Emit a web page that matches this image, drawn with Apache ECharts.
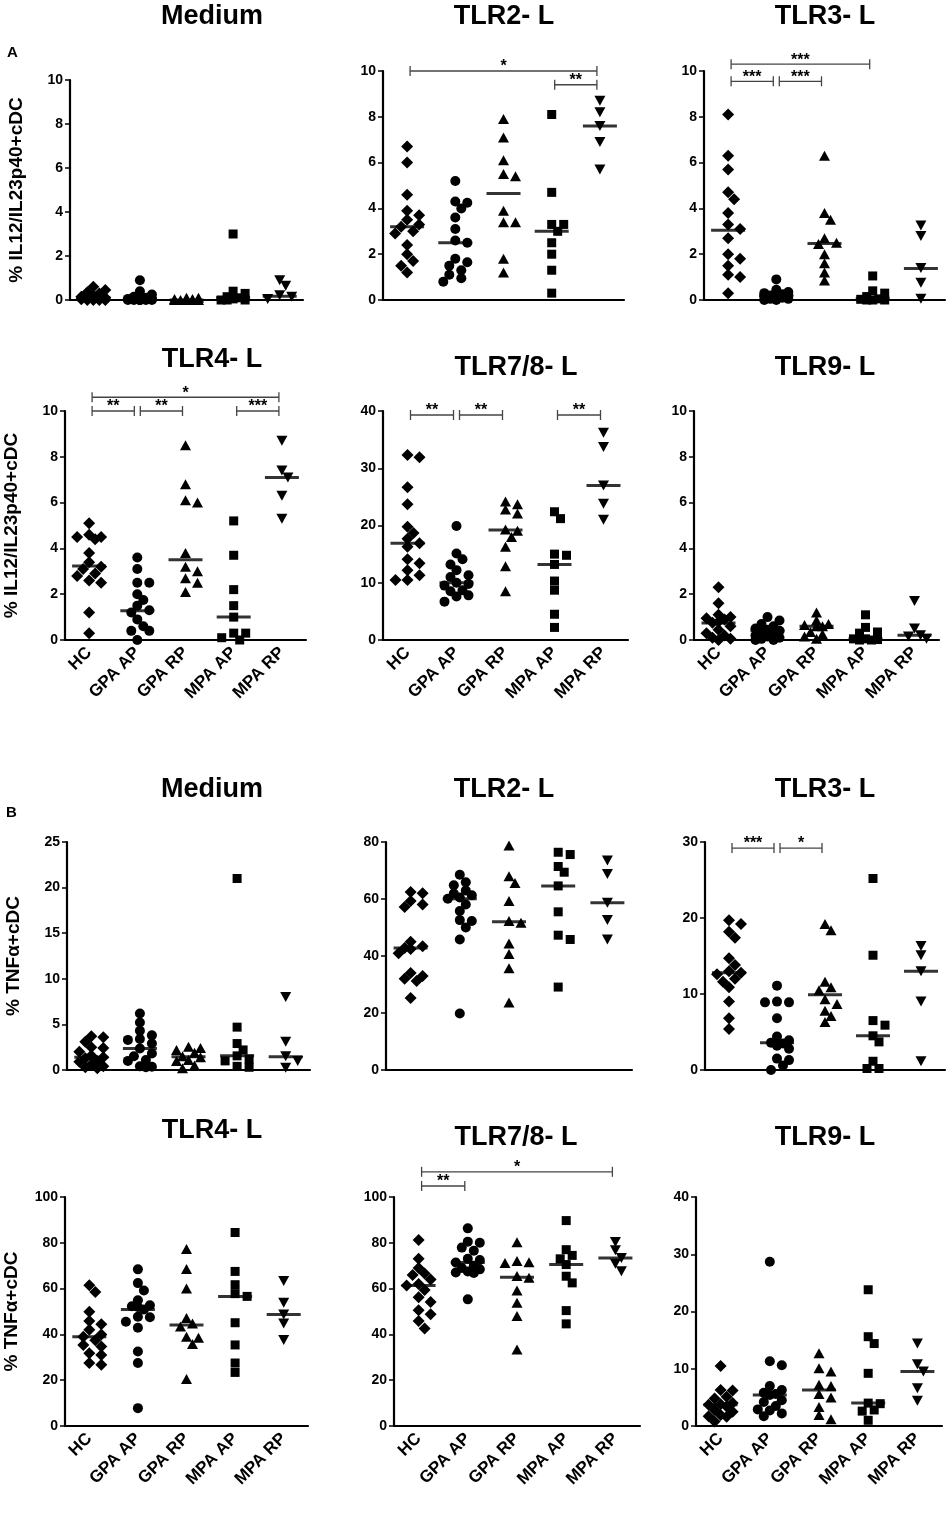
<!DOCTYPE html>
<html>
<head>
<meta charset="UTF-8">
<title>cDC cytokine dot plots</title>
<script src="https://cdn.jsdelivr.net/npm/echarts@6/dist/echarts.min.js"></script>
<style>
  html, body { margin: 0; padding: 0; background: #fff; }
  #main { width: 948px; height: 1516px; }
</style>
</head>
<body>
<div id="main"></div>
<script>
// groups (x axis)
var cats = ['HC', 'GPA AP', 'GPA RP', 'MPA AP', 'MPA RP'];

// ---- panel A: % IL12/IL23p40+ cDC ----
var aMedium = [
  [0.6, 0.45, 0.35, 0.3, 0.2, 0.15, 0.1, 0.1, 0.08, 0.05, 0.03, 0, 0, 0, 0],
  [0.9, 0.4, 0.25, 0.15, 0.1, 0.05, 0.05, 0.05, 0, 0, 0, 0, 0, 0, 0],
  [0.1, 0.1, 0.05, 0.05, 0, 0, 0, 0, 0, 0],
  [3.0, 0.4, 0.3, 0.15, 0.1, 0.05, 0, 0, 0],
  [0.9, 0.65, 0.22, 0.15, 0.05]
];
var aMediumMed = [0.1, 0.05, 0, 0.1, 0.17];

var aTLR2 = [
  [6.7, 6.0, 4.6, 3.9, 3.7, 3.5, 3.3, 3.2, 3.0, 2.9, 2.4, 2.0, 1.7, 1.5, 1.2],
  [5.2, 4.3, 4.25, 4.0, 3.6, 3.1, 2.6, 2.5, 1.8, 1.65, 1.5, 1.3, 1.1, 0.95, 0.8],
  [7.9, 7.1, 6.1, 5.5, 5.4, 3.9, 3.4, 3.4, 1.8, 1.2],
  [8.1, 4.7, 3.3, 3.3, 3.0, 2.5, 2.0, 1.3, 0.3],
  [8.7, 8.2, 7.6, 6.9, 5.7]
];
var aTLR2Med = [3.2, 2.5, 4.65, 3.0, 7.6];
var aTLR2Sig = [[0, 4, 10, '*'], [3, 4, 9.4, '**']];

var aTLR3 = [
  [8.1, 6.3, 5.7, 4.7, 4.4, 3.8, 3.3, 3.1, 2.7, 2.0, 1.8, 1.5, 1.1, 1.0, 0.3],
  [0.9, 0.45, 0.35, 0.3, 0.25, 0.2, 0.2, 0.2, 0.15, 0.1, 0.1, 0.05, 0.05, 0, 0],
  [6.3, 3.8, 3.5, 2.7, 2.5, 2.45, 2.0, 1.6, 1.2, 0.85],
  [1.05, 0.4, 0.3, 0.15, 0.05, 0.03, 0, 0, 0],
  [3.25, 2.8, 1.4, 0.75, 0.05]
];
var aTLR3Med = [3.05, 0.2, 2.47, 0.05, 1.38];
var aTLR3Sig = [[0, 3, 10.3, '***'], [0, 1, 9.55, '***'], [1, 2, 9.55, '***']];

var aTLR4 = [
  [5.1, 4.6, 4.5, 4.5, 4.4, 3.8, 3.4, 3.2, 3.1, 2.9, 2.8, 2.6, 2.5, 1.2, 0.3],
  [3.6, 3.1, 2.5, 2.5, 2.0, 1.75, 1.5, 1.3, 1.2, 0.9, 0.6, 0.4, 0.4, 0.0],
  [8.5, 6.8, 6.1, 6.0, 3.8, 3.2, 3.0, 2.7, 2.5, 2.1],
  [5.2, 3.7, 2.2, 1.5, 1.0, 0.3, 0.3, 0.1, 0.0],
  [8.7, 7.4, 7.1, 6.3, 5.3]
];
var aTLR4Med = [3.23, 1.28, 3.5, 1.0, 7.1];
var aTLR4Sig = [[0, 4, 10.6, '*'], [0, 1, 10, '**'], [1, 2, 10, '**'], [3, 4, 10, '***']];

var aTLR78 = [
  [32.3, 31.9, 26.7, 23.7, 19.8, 18.7, 17.7, 16.9, 16.3, 14.1, 13.4, 12.2, 11.3, 10.5, 10.5],
  [19.9, 15.1, 14.1, 13.2, 12.2, 11.3, 11.0, 10.0, 9.8, 9.5, 8.7, 8.5, 7.8, 7.6, 6.7],
  [24.2, 23.7, 22.8, 22.1, 19.3, 19.1, 18.0, 16.3, 12.9, 8.5],
  [22.4, 21.2, 15.0, 14.8, 13.2, 10.3, 8.7, 4.5, 2.2],
  [36.2, 33.7, 27.0, 23.8, 21.0]
];
var aTLR78Med = [16.9, 10.0, 19.2, 13.2, 27.0];
var aTLR78Sig = [[0, 1, 39.3, '**'], [1, 2, 39.3, '**'], [3, 4, 39.3, '**']];

var aTLR9 = [
  [2.3, 1.6, 1.1, 1.0, 0.95, 0.9, 0.8, 0.75, 0.6, 0.45, 0.3, 0.2, 0.1, 0.05, 0],
  [1.0, 0.85, 0.7, 0.6, 0.5, 0.45, 0.4, 0.4, 0.3, 0.2, 0.15, 0.1, 0.05, 0, 0],
  [1.2, 0.85, 0.7, 0.65, 0.6, 0.6, 0.35, 0.25, 0.15, 0.05],
  [1.1, 0.55, 0.35, 0.3, 0.05, 0.05, 0.02, 0, 0],
  [1.7, 0.5, 0.21, 0.15, 0.05]
];
var aTLR9Med = [0.74, 0.4, 0.6, 0.05, 0.21];

// ---- panel B: % TNFa+ cDC ----
var bMedium = [
  [3.7, 3.6, 3.1, 2.5, 2.4, 2.0, 1.6, 1.4, 1.3, 1.0, 0.9, 0.6, 0.4, 0.3, 0.2],
  [6.2, 5.2, 4.3, 3.8, 3.4, 3.3, 2.9, 2.35, 1.8, 1.5, 1.1, 1.0, 0.4, 0.35, 0.3],
  [2.55, 2.4, 2.2, 1.9, 1.5, 1.4, 1.1, 1.0, 0.5, 0.2],
  [21.0, 4.7, 2.9, 2.2, 1.55, 1.2, 1.0, 0.4, 0.3],
  [8.0, 3.1, 1.5, 1.0, 0.25]
];
var bMediumMed = [1.4, 2.35, 1.45, 1.55, 1.46];

var bTLR2 = [
  [62.5, 62.0, 59.3, 58.1, 57.2, 45.0, 43.4, 42.8, 42.5, 41.0, 34.0, 33.0, 32.0, 31.2, 25.3],
  [68.5, 65.9, 64.8, 63.0, 61.9, 61.3, 60.5, 60.1, 58.1, 55.8, 52.6, 52.3, 50.0, 45.8, 19.8],
  [78.8, 68.0, 65.6, 59.3, 52.3, 51.7, 44.4, 40.7, 35.7, 23.7],
  [76.4, 75.6, 71.4, 69.4, 64.6, 55.5, 47.3, 45.8, 29.1],
  [73.5, 68.8, 58.7, 52.6, 45.8]
];
var bTLR2Med = [42.8, 60.1, 52.0, 64.6, 58.7];

var bTLR3 = [
  [19.7, 19.2, 18.2, 17.4, 14.7, 13.8, 13.0, 12.8, 12.6, 12.0, 11.6, 10.9, 9.0, 6.8, 5.4],
  [11.1, 9.0, 8.9, 8.9, 6.8, 4.4, 3.9, 3.6, 3.5, 3.2, 2.8, 1.5, 1.3, 0.6, 0.0],
  [19.2, 18.4, 11.6, 10.9, 10.5, 9.3, 8.7, 7.8, 7.1, 6.3],
  [25.2, 15.1, 6.5, 5.9, 4.5, 3.7, 1.15, 0.2, 0.2],
  [16.3, 15.1, 13.0, 9.0, 1.15]
];
var bTLR3Med = [12.8, 3.6, 9.9, 4.5, 13.0];
var bTLR3Sig = [[0, 1, 29.2, '***'], [1, 2, 29.2, '*']];

var bTLR4 = [
  [61.5, 58.5, 49.9, 45.8, 44.4, 42.0, 40.0, 39.0, 37.5, 35.4, 34.7, 31.8, 31.0, 27.5, 26.8],
  [68.4, 62.4, 59.2, 54.9, 52.7, 52.3, 52.0, 50.9, 47.7, 47.5, 45.5, 42.9, 32.5, 27.5, 7.8],
  [77.3, 68.6, 60.0, 47.2, 44.8, 43.5, 39.0, 38.5, 35.8, 20.5],
  [84.5, 67.5, 61.7, 57.8, 56.6, 45.1, 35.4, 27.5, 23.4],
  [63.3, 53.8, 48.7, 44.8, 37.6]
];
var bTLR4Med = [39.0, 50.9, 44.1, 56.6, 48.7];

var bTLR78 = [
  [81.2, 73.0, 69.0, 66.6, 65.9, 64.0, 62.0, 61.3, 59.4, 56.2, 54.2, 50.6, 48.8, 45.9, 42.6],
  [86.3, 80.5, 80.0, 77.9, 76.5, 73.0, 72.5, 71.4, 70.0, 69.0, 68.4, 67.5, 67.0, 66.8, 55.3],
  [80.2, 72.0, 71.5, 71.2, 65.5, 64.7, 59.2, 53.8, 48.0, 33.4],
  [89.7, 77.0, 74.5, 73.0, 70.5, 65.4, 62.5, 50.4, 44.6],
  [80.4, 76.7, 73.4, 70.8, 67.6]
];
var bTLR78Med = [61.3, 71.4, 65.0, 70.5, 73.4];
var bTLR78Sig = [[0, 4, 111, '*'], [0, 1, 104.8, '**']];

var bTLR9 = [
  [10.5, 6.3, 6.2, 5.1, 4.8, 4.0, 3.8, 3.7, 3.4, 2.8, 2.5, 1.9, 1.7, 1.6, 0.8],
  [28.7, 11.3, 10.6, 7.0, 6.3, 5.8, 5.6, 5.4, 4.5, 4.2, 3.5, 2.9, 2.7, 2.2, 1.7],
  [12.7, 10.1, 9.5, 7.2, 7.0, 5.6, 5.0, 3.3, 1.9, 1.2],
  [23.8, 15.6, 14.4, 9.2, 4.0, 3.9, 2.8, 2.6, 1.0],
  [14.4, 10.8, 9.5, 6.6, 4.4]
];
var bTLR9Med = [3.7, 5.4, 6.3, 4.0, 9.5];

var FONT = 'Liberation Sans, Arial, sans-serif';
var yNameA = '% IL12/IL23p40+cDC';
var yNameB = '% TNF\u03b1+cDC';

// marker per group: diamond, circle, triangle, square, inverted triangle
var marks = [
  { symbol: 'diamond', size: [12, 12], rot: 0 },
  { symbol: 'circle', size: 10, rot: 0 },
  { symbol: 'triangle', size: [11, 10], rot: 0 },
  { symbol: 'rect', size: 9, rot: 0 },
  { symbol: 'triangle', size: [11, 10], rot: 180 }
];

// panel layout: [left, right, top, bottom] in px
var panels = [
  { title: 'Medium',    tx: 212, ty: 17,   data: aMedium, med: aMediumMed, max: 10, step: 2,  box: [70, 303, 80, 300],   yname: yNameA },
  { title: 'TLR2- L',   tx: 504, ty: 17,   data: aTLR2,   med: aTLR2Med,   max: 10, step: 2,  box: [383, 624, 71, 300],  sig: aTLR2Sig },
  { title: 'TLR3- L',   tx: 825, ty: 17,   data: aTLR3,   med: aTLR3Med,   max: 10, step: 2,  box: [704, 945, 71, 300],  sig: aTLR3Sig },
  { title: 'TLR4- L',   tx: 212, ty: 360,  data: aTLR4,   med: aTLR4Med,   max: 10, step: 2,  box: [65, 306, 411, 640],  sig: aTLR4Sig, labels: true, yname: yNameA },
  { title: 'TLR7/8- L', tx: 516, ty: 368,  data: aTLR78,  med: aTLR78Med,  max: 40, step: 10, box: [383, 628, 411, 640], sig: aTLR78Sig, labels: true },
  { title: 'TLR9- L',   tx: 825, ty: 368,  data: aTLR9,   med: aTLR9Med,   max: 10, step: 2,  box: [694, 939, 411, 640], labels: true },
  { title: 'Medium',    tx: 212, ty: 790,  data: bMedium, med: bMediumMed, max: 25, step: 5,  box: [67, 310, 842, 1070], yname: yNameB },
  { title: 'TLR2- L',   tx: 504, ty: 790,  data: bTLR2,   med: bTLR2Med,   max: 80, step: 20, box: [386, 632, 842, 1070] },
  { title: 'TLR3- L',   tx: 825, ty: 790,  data: bTLR3,   med: bTLR3Med,   max: 30, step: 10, box: [705, 945, 842, 1070], sig: bTLR3Sig },
  { title: 'TLR4- L',   tx: 212, ty: 1131, data: bTLR4,   med: bTLR4Med,   max: 100, step: 20, box: [65, 308, 1197, 1426], labels: true, yname: yNameB },
  { title: 'TLR7/8- L', tx: 516, ty: 1138, data: bTLR78,  med: bTLR78Med,  max: 100, step: 20, box: [394, 640, 1197, 1426], sig: bTLR78Sig, labels: true },
  { title: 'TLR9- L',   tx: 825, ty: 1138, data: bTLR9,   med: bTLR9Med,   max: 40, step: 10, box: [696, 942, 1197, 1426], labels: true }
];

// spread points that would overlap sideways (Prism style scatter),
// but keep them within a narrow column; crowded spots just overlap
function swarm(vals, max, h) {
  var order = vals.map(function (v, i) { return i; }).sort(function (a, b) { return vals[b] - vals[a]; });
  var placed = [];
  var off = vals.map(function () { return 0; });
  var stepPx = 6, dmin = 8;
  var slots = [0, 1, -1, 2, -2];
  order.forEach(function (i) {
    var y = vals[i] / max * h;
    var best = 0, bestScore = -1;
    for (var k = 0; k < slots.length; k++) {
      var x = slots[k] * stepPx;
      var score = placed.reduce(function (mn, p) { return Math.min(mn, Math.hypot(p[0] - x, p[1] - y)); }, 1e9);
      if (score >= dmin) { best = x; bestScore = score; break; }
      if (score > bestScore + 0.5) { bestScore = score; best = x; }
    }
    off[i] = best;
    placed.push([best, y]);
  });
  return off;
}

function bracketRender(sig) {
  return function (params, api) {
    var b = sig[params.dataIndex];
    var p1 = api.coord([b[0], b[2]]);
    var p2 = api.coord([b[1], b[2]]);
    var x1 = p1[0] + 3, x2 = p2[0] - 3, y = p1[1];
    var ls = { stroke: '#444', lineWidth: 1.3 };
    return {
      type: 'group',
      children: [
        { type: 'line', shape: { x1: x1, y1: y, x2: x2, y2: y }, style: ls },
        { type: 'line', shape: { x1: x1, y1: y - 5, x2: x1, y2: y + 5 }, style: ls },
        { type: 'line', shape: { x1: x2, y1: y - 5, x2: x2, y2: y + 5 }, style: ls },
        { type: 'text', style: { text: b[3], x: (x1 + x2) / 2, y: y - 4, align: 'center', verticalAlign: 'middle',
          font: 'bold 16px ' + FONT, fill: '#000' } }
      ]
    };
  };
}

var grids = [], xAxes = [], yAxes = [], series = [], graphics = [];

panels.forEach(function (p, gi) {
  var L = p.box[0], R = p.box[1], T = p.box[2], B = p.box[3];
  grids.push({ left: L, top: T, width: R - L, height: B - T });

  xAxes.push({
    gridIndex: gi, type: 'category', data: cats, boundaryGap: true,
    axisLine: { lineStyle: { color: '#000', width: 2.2 } },
    axisTick: { alignWithLabel: true, length: 6, lineStyle: { color: '#000', width: 1.5 } },
    axisLabel: { show: !!p.labels, interval: 0, rotate: 45, margin: 10, color: '#000',
      fontWeight: 'bold', fontSize: 17, fontFamily: FONT },
    splitLine: { show: false }
  });

  yAxes.push({
    gridIndex: gi, type: 'value', min: 0, max: p.max, interval: p.step,
    name: p.yname || '', nameLocation: 'middle', nameGap: 44, nameRotate: 90,
    nameTextStyle: { color: '#000', fontWeight: 'bold', fontSize: 19, fontFamily: FONT },
    axisLine: { show: true, lineStyle: { color: '#000', width: 2.2 } },
    axisTick: { show: true, length: 5, lineStyle: { color: '#000', width: 1.5 } },
    axisLabel: { color: '#000', fontWeight: 'bold', fontSize: 14, fontFamily: FONT, margin: 7 },
    splitLine: { show: false }
  });

  var pts = [];
  p.data.forEach(function (vals, ci) {
    var off = swarm(vals, p.max, B - T);
    vals.forEach(function (v, k) {
      pts.push({
        value: [ci, v],
        symbol: marks[ci].symbol,
        symbolSize: marks[ci].size,
        symbolRotate: marks[ci].rot,
        symbolOffset: [off[k], 0]
      });
    });
  });
  series.push({
    type: 'scatter', xAxisIndex: gi, yAxisIndex: gi, data: pts, clip: false,
    itemStyle: { color: '#000', opacity: 1 }, silent: true, z: 2
  });

  series.push({
    type: 'scatter', xAxisIndex: gi, yAxisIndex: gi, clip: false, silent: true, z: 3,
    symbol: 'rect', symbolSize: [34, 3],
    data: p.med.map(function (m, ci) { return [ci, m]; }),
    itemStyle: { color: '#000' }
  });

  if (p.sig) {
    series.push({
      type: 'custom', xAxisIndex: gi, yAxisIndex: gi, clip: false, silent: true, z: 4,
      renderItem: bracketRender(p.sig),
      encode: { x: 0, y: 1 },
      data: p.sig.map(function (s) { return [s[0], s[2]]; })
    });
  }

  graphics.push({
    type: 'text', x: p.tx, y: p.ty,
    style: { text: p.title, align: 'center', verticalAlign: 'middle', font: 'bold 27px ' + FONT, fill: '#000' }
  });
});

graphics.push({ type: 'text', x: 7, y: 53, style: { text: 'A', align: 'left', verticalAlign: 'middle', font: 'bold 15px ' + FONT, fill: '#000' } });
graphics.push({ type: 'text', x: 6, y: 813, style: { text: 'B', align: 'left', verticalAlign: 'middle', font: 'bold 15px ' + FONT, fill: '#000' } });

var myChart = echarts.init(document.getElementById('main'), null, { renderer: 'canvas' });
myChart.setOption({
  animation: false,
  backgroundColor: '#fff',
  grid: grids,
  xAxis: xAxes,
  yAxis: yAxes,
  series: series,
  graphic: graphics
});
</script>
</body>
</html>
